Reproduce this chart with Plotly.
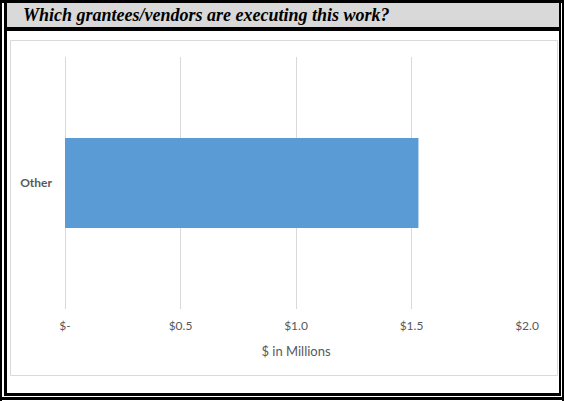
import plotly.graph_objects as go

categories = ["Other"]
values = [1.53]
tick_vals = [0, 0.5, 1.0, 1.5, 2.0]
tick_text = ["$-", "$0.5", "$1.0", "$1.5", "$2.0"]
title_text = "Which grantees/vendors are executing this work?"
x_title = "$ in Millions"

W, H = 564, 401
ML, MR, MT, MB = 65, 37, 57, 92
PW, PH = W - ML - MR, H - MT - MB


def px(x):
    return (x - ML) / PW


def py(y):
    return (H - MB - y) / PH


fig = go.Figure(go.Bar(
    x=values, y=categories, orientation="h",
    marker=dict(color="#5b9bd5", line=dict(width=0)),
    hoverinfo="skip",
))

shapes = []


def rect(x0, y0, x1, y1, fill, line_color=None, lw=0):
    shapes.append(dict(
        type="rect", xref="paper", yref="paper",
        x0=px(x0), x1=px(x1), y0=py(y1), y1=py(y0),
        fillcolor=fill, line=dict(color=line_color or fill, width=lw),
        layer="below",
    ))


# title band
rect(7, 3, 559, 27, "#d9d9d9")
# chart box
shapes.append(dict(type="rect", xref="paper", yref="paper",
                   x0=px(10.5), x1=px(557.5), y0=py(375.5), y1=py(40.5),
                   fillcolor="rgba(0,0,0,0)", line=dict(color="#d9d9d9", width=1),
                   layer="below"))
# outer border lines
rect(0, 0, 564, 3, "black")          # top
rect(7, 27, 559, 31, "black")        # under title band
rect(0, 0, 2, 401, "black")          # left outer
rect(4, 3, 7, 396, "black")          # left inner
rect(562, 0, 564, 401, "black")      # right outer
rect(559, 3, 561, 396, "black")      # right inner
rect(4, 393, 561, 396, "black")      # bottom inner
rect(0, 397, 564, 400, "black")      # bottom outer

fig.update_layout(
    width=W, height=H,
    margin=dict(l=ML, r=MR, t=MT, b=MB, autoexpand=False),
    paper_bgcolor="white", plot_bgcolor="white",
    showlegend=False,
    bargap=0.643,
    shapes=shapes,
    annotations=[dict(
        text="<b><i>" + title_text + "</i></b>",
        xref="paper", yref="paper", x=px(21), y=py(15),
        xanchor="left", yanchor="middle", showarrow=False,
        font=dict(family="Liberation Serif", size=18, color="black"),
    )],
    xaxis=dict(
        range=[0, 2.0], tickvals=tick_vals, ticktext=tick_text,
        showgrid=True, gridcolor="#d9d9d9", gridwidth=1,
        zeroline=True, zerolinecolor="#d9d9d9", zerolinewidth=1,
        showline=False, ticks="outside", ticklen=6, tickcolor="rgba(0,0,0,0)",
        tickfont=dict(family="Lato", size=12, color="#595959"),
        title=dict(text=x_title, standoff=14,
                   font=dict(family="Lato", size=13, color="#595959")),
        fixedrange=True,
    ),
    yaxis=dict(
        showgrid=False, zeroline=False, showline=False,
        tickfont=dict(family="Lato", size=12, color="#595959", weight="bold"),
        ticklabelstandoff=12,
        fixedrange=True,
    ),
)

fig.write_html(
    "out.html",
    config={"displayModeBar": False},
    post_script="document.body.style.margin='0';document.body.style.overflow='hidden';",
)
